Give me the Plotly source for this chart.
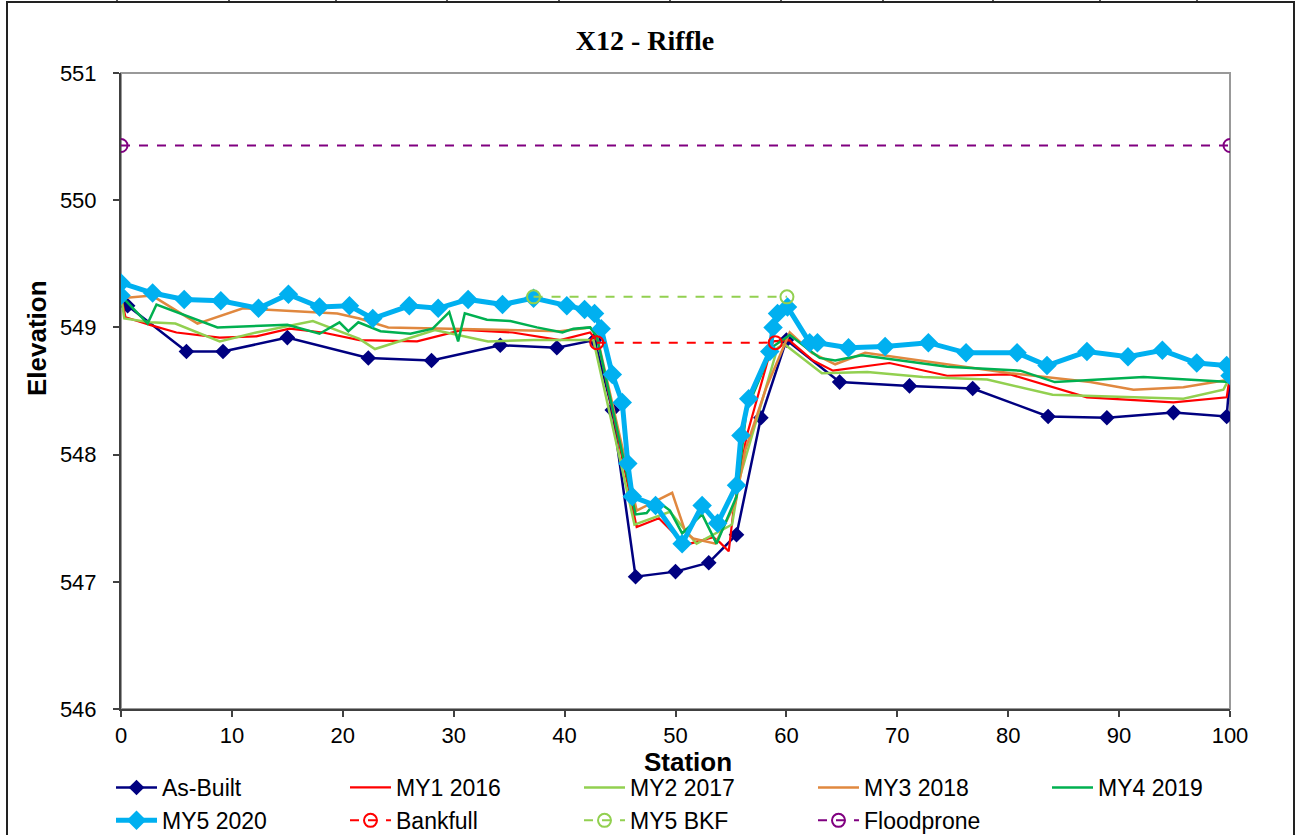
import plotly.graph_objects as go

# Cross-section survey data (station, elevation)
asbuilt_x = [0.6, 5.9, 9.2, 15.0, 22.3, 28.0, 34.2, 39.3, 42.7, 44.3, 46.4, 50.0, 53.0, 55.5,
             57.7, 60.0, 64.8, 71.1, 76.8, 83.6, 88.9, 94.9, 99.7, 100]
asbuilt_y = [549.17, 548.81, 548.81, 548.92, 548.76, 548.74, 548.86, 548.84, 548.90, 548.35,
             547.04, 547.08, 547.15, 547.37, 548.29, 548.90, 548.57, 548.54, 548.52, 548.30,
             548.29, 548.33, 548.30, 548.62]

my1_x = [0, 0.4, 2.6, 5.0, 8.9, 12.2, 15.2, 18.2, 21.5, 26.7, 30.8, 35.3, 39.6, 42.3, 43.0,
         46.5, 48.5, 50.9, 53.4, 54.0, 54.8, 55.2, 56.4, 58.8, 60.3, 60.5, 62.4, 64.2, 69.3,
         74.5, 80.2, 87.1, 94.9, 99.7, 100]
my1_y = [549.25, 549.08, 549.02, 548.96, 548.92, 548.93, 548.99, 548.96, 548.90, 548.89,
         548.98, 548.96, 548.90, 548.96, 548.89, 547.43, 547.50, 547.29, 547.35, 547.31,
         547.24, 547.54, 548.14, 548.89, 548.90, 548.88, 548.74, 548.66, 548.72, 548.62,
         548.63, 548.45, 548.41, 548.45, 548.62]

my2_x = [0, 0.3, 2.6, 4.9, 8.9, 12.2, 17.3, 21.5, 22.9, 28.3, 33.1, 37.2, 42.6, 46.3, 49.5,
         51.9, 55.1, 55.8, 59.2, 59.8, 63.2, 67.3, 72.3, 78.1, 84.0, 95.8, 99.4, 100]
my2_y = [549.25, 549.07, 549.04, 549.03, 548.89, 548.96, 549.05, 548.91, 548.83, 548.98,
         548.89, 548.90, 548.90, 547.45, 547.55, 547.30, 547.45, 547.82, 548.84, 548.87,
         548.64, 548.65, 548.61, 548.59, 548.47, 548.44, 548.51, 548.61]

my3_x = [0, 2.8, 6.9, 11.0, 19.5, 21.5, 24.1, 29.7, 39.6, 42.3, 42.9, 46.5, 49.7, 50.9, 51.6,
         53.6, 55.4, 56.3, 58.2, 60.3, 62.3, 64.4, 67.1, 80.2, 87.4, 91.3, 95.8, 100]
my3_y = [549.23, 549.25, 549.03, 549.15, 549.11, 549.07, 549.00, 548.99, 548.97, 549.00,
         548.94, 547.56, 547.70, 547.39, 547.34, 547.30, 547.62, 548.04, 548.53, 548.96,
         548.80, 548.71, 548.80, 548.64, 548.57, 548.51, 548.53, 548.59]

my4_x = [0, 2.4, 3.2, 8.7, 15.0, 17.9, 19.7, 20.5, 21.4, 23.4, 26.1, 28.1, 29.6, 30.4, 31.0,
         33.0, 35.1, 37.5, 39.8, 40.8, 42.3, 42.9, 46.4, 47.4, 48.3, 49.5, 50.6, 52.4, 53.7,
         55.5, 56.4, 58.8, 60.3, 63.0, 64.4, 66.8, 74.5, 81.1, 84.2, 92.2, 96.1, 100]
my4_y = [549.25, 549.03, 549.18, 549.00, 549.02, 548.95, 549.04, 548.97, 549.04, 548.97,
         548.95, 548.99, 549.12, 548.89, 549.11, 549.06, 549.05, 549.00, 548.96, 548.99,
         549.00, 548.93, 547.53, 547.54, 547.64, 547.56, 547.38, 547.53, 547.30, 547.67,
         548.35, 548.85, 548.94, 548.76, 548.74, 548.78, 548.69, 548.66, 548.57, 548.61,
         548.59, 548.57]

my5_x = [0, 0, 2.85, 5.7, 9.0, 12.4, 15.1, 17.9, 20.6, 22.7, 26.0, 28.6, 31.3, 34.4, 37.2,
         40.2, 41.8, 42.7, 43.3, 44.3, 45.2, 45.7, 46.1, 48.2, 50.6, 52.4, 53.8, 55.5, 55.9,
         56.6, 58.5, 58.8, 59.2, 60.1, 62.1, 62.8, 65.6, 68.9, 72.8, 76.2, 80.8, 83.5, 87.1,
         90.8, 93.9, 97.0, 99.7, 100]
my5_y = [549.25, 549.35, 549.27, 549.22, 549.21, 549.15, 549.26, 549.16, 549.17, 549.07,
         549.17, 549.15, 549.22, 549.18, 549.23, 549.17, 549.14, 549.11, 548.99, 548.63,
         548.41, 547.93, 547.67, 547.60, 547.30, 547.60, 547.46, 547.76, 548.15, 548.44,
         548.81, 549.00, 549.11, 549.16, 548.88, 548.88, 548.84, 548.85, 548.88, 548.80,
         548.80, 548.70, 548.81, 548.77, 548.82, 548.72, 548.70, 548.62]

bkf_x = [42.9, 59.0]
bkf_y = [548.88, 548.88]
my5bkf_x = [37.2, 60.05]
my5bkf_y = [549.24, 549.24]
flood_x = [0, 100]
flood_y = [550.43, 550.43]

FONT = "Liberation Sans, Arial, sans-serif"

fig = go.Figure()

fig.add_trace(go.Scatter(x=asbuilt_x, y=asbuilt_y, name="As-Built", mode="lines+markers",
                         line=dict(color="#000080", width=2.5),
                         marker=dict(symbol="diamond", size=12, color="#000080")))
fig.add_trace(go.Scatter(x=my1_x, y=my1_y, name="MY1 2016", mode="lines",
                         line=dict(color="#FF0000", width=2.2)))
fig.add_trace(go.Scatter(x=my2_x, y=my2_y, name="MY2 2017", mode="lines",
                         line=dict(color="#92D050", width=2.5)))
fig.add_trace(go.Scatter(x=my3_x, y=my3_y, name="MY3 2018", mode="lines",
                         line=dict(color="#E0883F", width=2.5)))
fig.add_trace(go.Scatter(x=my4_x, y=my4_y, name="MY4 2019", mode="lines",
                         line=dict(color="#00B050", width=2.5)))
fig.add_trace(go.Scatter(x=my5_x, y=my5_y, name="MY5 2020", mode="lines+markers",
                         line=dict(color="#00B0F0", width=5),
                         marker=dict(symbol="diamond", size=15, color="#00B0F0")))
fig.add_trace(go.Scatter(x=bkf_x, y=bkf_y, name="Bankfull", mode="lines+markers",
                         line=dict(color="#FF0000", width=2, dash="dash"),
                         marker=dict(symbol="circle-open", size=13, color="#FF0000",
                                     line=dict(width=2))))
fig.add_trace(go.Scatter(x=my5bkf_x, y=my5bkf_y, name="MY5 BKF", mode="lines+markers",
                         line=dict(color="#92D050", width=2, dash="dash"),
                         marker=dict(symbol="circle-open", size=13, color="#92D050",
                                     line=dict(width=2))))
fig.add_trace(go.Scatter(x=flood_x, y=flood_y, name="Floodprone", mode="lines+markers",
                         line=dict(color="#800080", width=2, dash="dash"),
                         marker=dict(symbol="circle-open", size=13, color="#800080",
                                     line=dict(width=2))))

# pixel -> paper coordinates (plot area spans 121..1230 x, 73..709 y)
def px_x(p):
    return (p - 121) / 1109

def px_y(p):
    return (709 - p) / 636

# plot area box (grey top/right) and outer frame
shapes = [dict(type="rect", xref="paper", yref="paper", x0=0, x1=1, y0=0, y1=1,
               line=dict(color="#999999", width=2), layer="below"),
          dict(type="rect", xref="paper", yref="paper", x0=px_x(7), x1=px_x(1294),
               y0=px_y(850), y1=px_y(2), line=dict(color="#222222", width=2), layer="below")]
for p in [117, 229, 336, 447, 559, 670, 781, 883, 993, 1100, 1197]:
    shapes.append(dict(type="line", xref="paper", yref="paper", x0=px_x(p), x1=px_x(p),
                       y0=px_y(2), y1=px_y(-2), line=dict(color="#222222", width=1.5)))

fig.update_layout(
    width=1298, height=835,
    margin=dict(l=121, r=68, t=73, b=126, autoexpand=False),
    paper_bgcolor="white", plot_bgcolor="white",
    font=dict(family=FONT, color="black", size=22),
    title=dict(text="<b>X12 - Riffle</b>", x=645 / 1298, xref="container",
               y=1 - 40 / 835, yanchor="middle", xanchor="center",
               font=dict(family="Liberation Serif, Times New Roman, serif", size=28)),
    xaxis=dict(range=[0, 100], dtick=10, showgrid=False, zeroline=False,
               showline=True, linecolor="#404040", linewidth=2,
               ticks="outside", ticklen=6, tickcolor="#404040", tickwidth=1.5,
               tickfont=dict(size=22), automargin=False),
    yaxis=dict(range=[546, 551], dtick=1, showgrid=False, zeroline=False,
               showline=True, linecolor="#404040", linewidth=2,
               ticks="outside", ticklen=6, tickcolor="#404040", tickwidth=1.5,
               tickfont=dict(size=22), ticklabelstandoff=12, automargin=False),
    showlegend=True,
    legend=dict(orientation="h", x=px_x(111), xanchor="left", y=px_y(766), yanchor="top",
                font=dict(size=23), entrywidth=178, entrywidthmode="pixels",
                itemwidth=41, bgcolor="rgba(0,0,0,0)", tracegroupgap=0),
    shapes=shapes,
    annotations=[
        dict(text="<b>Elevation</b>", xref="paper", yref="paper", x=px_x(37), y=px_y(338),
             xanchor="center", yanchor="middle", textangle=-90, showarrow=False,
             font=dict(size=26)),
        dict(text="<b>Station</b>", xref="paper", yref="paper", x=px_x(688), y=px_y(762),
             xanchor="center", yanchor="middle", showarrow=False, font=dict(size=26)),
    ],
)

# drop the default page margin so the figure sits at the window's top-left corner
fig.write_html("out.html", config={"displayModeBar": False},
               post_script="document.body.style.margin='0';")
